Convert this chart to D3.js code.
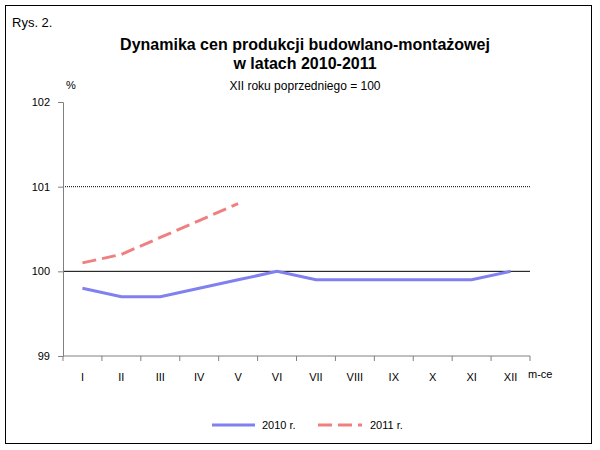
<!DOCTYPE html><html><head><meta charset="utf-8"><script src="https://cdn.jsdelivr.net/npm/d3@7"></script>
<style>body{margin:0;background:#fff}svg{font-family:"Liberation Sans",Arial,sans-serif}</style></head><body><svg width="600" height="450"></svg>
<script>
const months=["I","II","III","IV","V","VI","VII","VIII","IX","X","XI","XII"];
const v2010=[99.8,99.7,99.7,99.8,99.9,100,99.9,99.9,99.9,99.9,99.9,100];
const v2011=[100.1,100.2,100.4,100.6,100.8];
const yTicks=[99,100,101,102];
const svg=d3.select("svg");
svg.append("rect").attr("x",5.5).attr("y",5.5).attr("width",586).attr("height",438).attr("fill","none").attr("stroke","#000");
const x=d3.scaleBand().domain(months).range([63,530]);
const y=d3.scaleLinear().domain([99,102]).range([356,102]);
const g=svg.append("g");
g.selectAll(".gl").data([101]).join("line").attr("x1",63).attr("x2",530).attr("y1",d=>y(d)).attr("y2",d=>y(d)).attr("stroke","#000").attr("stroke-dasharray","1,1");
g.append("line").attr("x1",63).attr("x2",530).attr("y1",y(100)).attr("y2",y(100)).attr("stroke","#000");
const ya=svg.append("g").attr("transform","translate(63,0)").call(d3.axisLeft(y).tickValues(yTicks).tickFormat(d3.format("d")).tickSize(5).tickPadding(8));
ya.selectAll("text").attr("font-size",11).attr("fill","#000");
ya.select(".domain").attr("stroke","#808080");ya.selectAll(".tick line").attr("stroke","#808080");
const xa=svg.append("g").attr("transform","translate(0,356)");
xa.append("line").attr("x1",63).attr("x2",530).attr("stroke","#808080");
xa.selectAll(".t").data(months.concat(["_end"])).join("line").attr("x1",(d,i)=>63+i*x.step()).attr("x2",(d,i)=>63+i*x.step()).attr("y2",5).attr("stroke","#808080");
xa.selectAll("text").data(months).join("text").attr("x",d=>x(d)+x.bandwidth()/2).attr("y",25).attr("text-anchor","middle").attr("font-size",11).text(d=>d);
const line=d3.line().x((d,i)=>x(months[i])+x.bandwidth()/2).y(d=>y(d));
svg.append("path").datum(v2010).attr("d",line).attr("fill","none").attr("stroke","#8080f0").attr("stroke-width",3);
svg.append("path").datum(v2011).attr("d",line).attr("fill","none").attr("stroke","#f08080").attr("stroke-width",3).attr("stroke-dasharray","14,6");
const T=(t,xx,yy,s,w,a)=>svg.append("text").attr("x",xx).attr("y",yy).attr("font-size",s).attr("font-weight",w||"normal").attr("text-anchor",a||"start").text(t);
T("Rys. 2.",12,27,13);
T("Dynamika cen produkcji budowlano-montażowej",305,50,16,"bold","middle");
T("w latach 2010-2011",305,69,16,"bold","middle");
T("XII roku poprzedniego = 100",305,90,12,"normal","middle");
T("%",66,89,11);
T("m-ce",528,378,11);
svg.append("line").attr("x1",212).attr("x2",255).attr("y1",425).attr("y2",425).attr("stroke","#8080f0").attr("stroke-width",3);
T("2010 r.",262,429,11);
svg.append("line").attr("x1",318).attr("x2",362).attr("y1",425).attr("y2",425).attr("stroke","#f08080").attr("stroke-width",3).attr("stroke-dasharray","14,6");
T("2011 r.",370,429,11);
</script></body></html>
